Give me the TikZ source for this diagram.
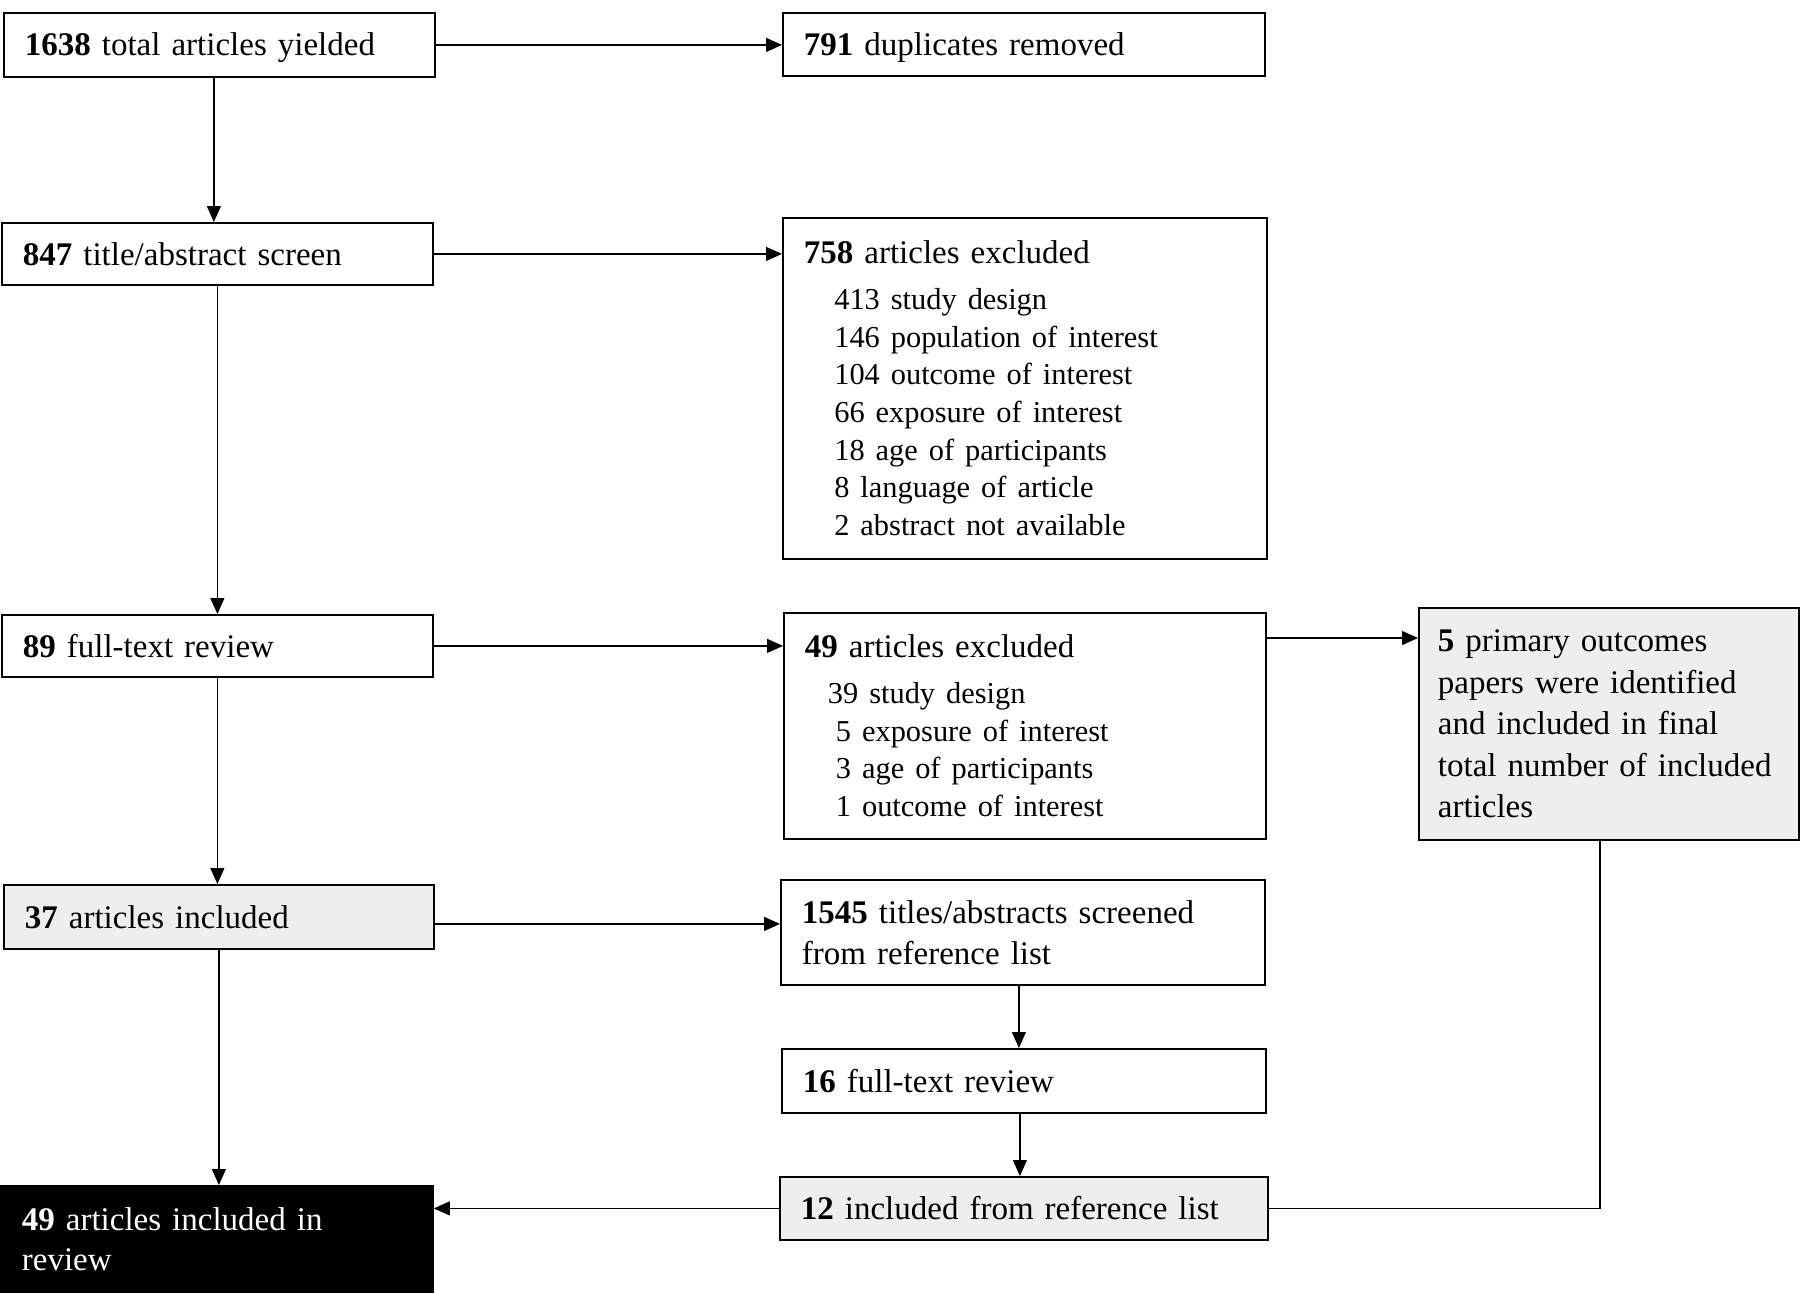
\documentclass[tikz,border=0pt]{standalone}
\usepackage{fontspec}
\setmainfont{Liberation Serif}
\usetikzlibrary{arrows.meta}
\definecolor{boxgray}{HTML}{EEEEEE}
\newcommand{\itemfont}{\fontsize{15.2}{18.85}\selectfont}
\newcommand{\lowertext}[1]{\raisebox{-1.6pt}[\height][\depth]{#1}}
\begin{document}
\begin{tikzpicture}[x=0.5pt,y=-0.5pt,
  box/.style={draw=black, line width=0.9pt, anchor=north west, inner xsep=10.5pt, inner ysep=0pt, align=left,
    font=\fontsize{16.5}{18.85}\selectfont},
  graybox/.style={box, fill=boxgray},
  blackbox/.style={box, fill=black, text=white},
  arr/.style={line width=0.6pt, -{Triangle[length=8pt,width=7pt]}},
  plain/.style={line width=0.6pt}]
\useasboundingbox (0,0) rectangle (1800,1292);
% left column
\node[box, minimum width=215.5pt, minimum height=32pt, text width=194.5pt] (b1) at (3,12) {\lowertext{\textbf{1638} total articles yielded}};
\node[box, minimum width=215.5pt, minimum height=31pt, text width=194.5pt] (b3) at (1,222) {\textbf{847} title/abstract screen};
\node[box, minimum width=215.5pt, minimum height=31pt, text width=194.5pt] (b5) at (1,614) {\textbf{89} full-text review};
\node[graybox, minimum width=215pt, minimum height=32pt, text width=194pt] (b8) at (3,884) {\textbf{37} articles included};
\node[blackbox, minimum width=216pt, minimum height=53.5pt, text width=195pt, font=\fontsize{16.5}{20}\selectfont] (b12) at (0,1185) {\textbf{49} articles included in\\review};
% middle column
\node[box, minimum width=241pt, minimum height=31.5pt, text width=220pt] (b2) at (782,12) {\lowertext{\textbf{791} duplicates removed}};
\node[box, minimum width=242pt, minimum height=170.5pt, text width=221pt] (b4) at (782,217) {\textbf{758} articles excluded\\[4pt]
{\itemfont\hspace*{15.2pt}413 study design}\\
{\itemfont\hspace*{15.2pt}146 population of interest}\\
{\itemfont\hspace*{15.2pt}104 outcome of interest}\\
{\itemfont\hspace*{15.2pt}66 exposure of interest}\\
{\itemfont\hspace*{15.2pt}18 age of participants}\\
{\itemfont\hspace*{15.2pt}8 language of article}\\
{\itemfont\hspace*{15.2pt}2 abstract not available}};
\node[box, minimum width=241pt, minimum height=113pt, text width=220pt] (b6) at (783,612) {\textbf{49} articles excluded\\[4pt]
{\itemfont\hspace*{11.5pt}39 study design}\\
{\itemfont\hspace*{15.5pt}5 exposure of interest}\\
{\itemfont\hspace*{15.5pt}3 age of participants}\\
{\itemfont\hspace*{15.5pt}1 outcome of interest}};
\node[box, minimum width=242pt, minimum height=52.5pt, text width=221pt, font=\fontsize{16.5}{20.5}\selectfont] (b9) at (780,879) {\textbf{1545} titles/abstracts screened\\from reference list};
\node[box, minimum width=242pt, minimum height=32pt, text width=221pt] (b10) at (781,1048) {\textbf{16} full-text review};
\node[graybox, minimum width=244pt, minimum height=31.5pt, text width=223pt] (b11) at (779,1176) {\textbf{12} included from reference list};
% right column
\node[graybox, minimum width=190pt, minimum height=116pt, text width=171pt, inner xsep=9.5pt, font=\fontsize{16.5}{20.7}\selectfont] (b7) at (1418,607) {\textbf{5} primary outcomes\\papers were identified\\and included in final\\total number of included\\articles};
% connectors
\draw[arr] (b1.east) -- (b1.east -| b2.west);
\draw[arr] ([xshift=-2.75pt]b1.south) -- ([xshift=-2.75pt]b1.south |- b3.north);
\draw[arr] (b3.east) -- (b3.east -| b4.west);
\draw[arr] (b3.south) -- (b5.north);
\draw[arr] (b5.east) -- (b5.east -| b6.west);
\coordinate (c67) at ([yshift=-13pt]b6.north east);
\draw[arr] (c67) -- (c67 -| b7.west);
\draw[arr] (b5.south) -- (b5.south |- b8.north);
\coordinate (c89) at ([yshift=-3.5pt]b8.east);
\draw[arr] (c89) -- (c89 -| b9.west);
\draw[arr] (b8.south) -- (b8.south |- b12.north);
\draw[arr] ([xshift=-2pt]b9.south) -- ([xshift=-2pt]b9.south |- b10.north);
\draw[arr] ([xshift=-2pt]b10.south) -- ([xshift=-2pt]b10.south |- b11.north);
\draw[arr] (b11.west) -- (b11.west -| b12.east);
\coordinate (c7) at ([xshift=-4.5pt]b7.south);
\draw[plain] (c7) |- (b11.east);
\end{tikzpicture}
\end{document}
